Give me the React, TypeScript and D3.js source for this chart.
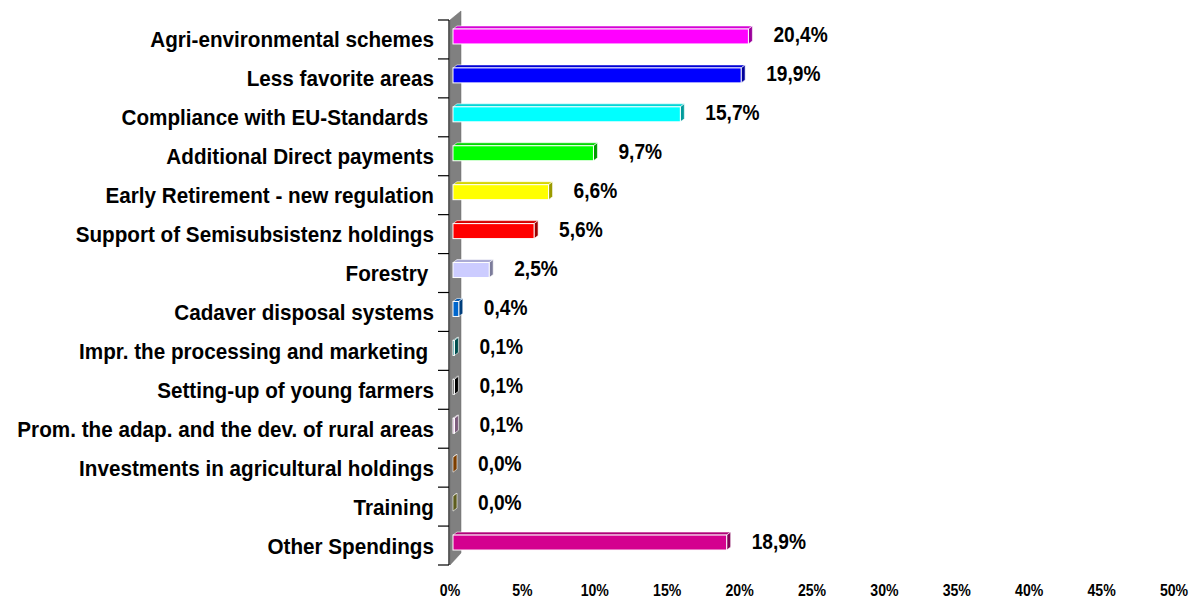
import React from "react";
import * as d3 from "d3";

const categories = [
  "Agri-environmental schemes",
  "Less favorite areas",
  "Compliance with EU-Standards ",
  "Additional Direct payments",
  "Early Retirement - new regulation",
  "Support of Semisubsistenz holdings",
  "Forestry ",
  "Cadaver disposal systems",
  "Impr. the processing and marketing ",
  "Setting-up of young farmers",
  "Prom. the adap. and the dev. of rural areas",
  "Investments in agricultural holdings",
  "Training",
  "Other Spendings",
];
const values = [20.4, 19.9, 15.7, 9.7, 6.6, 5.6, 2.5, 0.4, 0.1, 0.1, 0.1, 0.0, 0.0, 18.9];
const valueLabels = ["20,4%", "19,9%", "15,7%", "9,7%", "6,6%", "5,6%", "2,5%", "0,4%", "0,1%", "0,1%", "0,1%", "0,0%", "0,0%", "18,9%"];
const xTicks = [0, 5, 10, 15, 20, 25, 30, 35, 40, 45, 50];

const barColors = [
  "#FF00FF", "#0000FF", "#00FFFF", "#00FF00", "#FFFF00", "#FF0000", "#CCCCFF",
  "#0066CC", "#008080", "#000000", "#CC99CC", "#CC6600", "#999933", "#D4008F",
];

export default function App() {
  const W = 1190, H = 601;
  const y = d3.scaleBand<string>().domain(categories).range([20, 565]).padding(0);
  const x = d3.scaleLinear().domain([0, 50]).range([453, 453 + 50 * 14.48]);
  const axisX = 449;
  const depthX = 4, depthY = 3;
  const barH = 15;
  const font = "'Liberation Sans', Arial, sans-serif";

  const wallDx = 11, wallDy = 9;
  const wallPath = `M${axisX + 1},${y.range()[0]} L${axisX + 1 + wallDx},${y.range()[0] - wallDy} L${axisX + 1 + wallDx},${y.range()[1] - wallDy - 3} L${axisX + 1},${y.range()[1]} Z`;

  const boundaries = categories.map((c) => y(c) as number).concat([y.range()[1]]);

  return (
    <svg width={W} height={H} style={{ position: "absolute", left: 0, top: 0, background: "#fff" }}>
      <path d={wallPath} fill="#808080" stroke="#6a6a6a" strokeWidth={0.5} />
      <line x1={axisX} x2={axisX} y1={y.range()[0]} y2={y.range()[1]} stroke="#000" strokeWidth={1.2} />
      {boundaries.map((b, i) => (
        <line key={i} x1={axisX - 11} x2={axisX} y1={b} y2={b} stroke="#000" strokeWidth={1.2} />
      ))}
      {categories.map((c, i) => {
        const cy = (y(c) as number) + y.bandwidth() / 2;
        const top = cy - 3 - barH / 2;
        const x0 = x(0);
        const x1 = x(values[i]);
        const col = d3.color(barColors[i])!;
        const topCol = col.darker(0.5).formatHex();
        const sideCol = col.darker(1.4).formatHex();
        const topPath = `M${x0},${top} L${x0 + depthX},${top - depthY} L${x1 + depthX},${top - depthY} L${x1},${top} Z`;
        const sidePath = `M${x1},${top} L${x1 + depthX},${top - depthY} L${x1 + depthX},${top + barH - depthY} L${x1},${top + barH} Z`;
        return (
          <g key={c}>
            <path d={topPath} fill={topCol} stroke="#ffffff" strokeWidth={0.6} />
            <path d={sidePath} fill={sideCol} stroke="#ffffff" strokeWidth={0.6} />
            <rect x={x0} y={top} width={Math.max(0, x1 - x0)} height={barH} fill={barColors[i]} stroke="#ffffff" strokeWidth={1} />
            <text transform={`translate(434,${cy + 8}) scale(0.94,1)`} textAnchor="end" fontFamily={font} fontWeight="bold" fontSize={22} fill="#000" style={{ whiteSpace: "pre" }}>{c}</text>
            <text transform={`translate(${x1 + 25},${cy + 3}) scale(0.87,1)`} textAnchor="start" fontFamily={font} fontWeight="bold" fontSize={22} fill="#000">{valueLabels[i]}</text>
          </g>
        );
      })}
      {xTicks.map((t) => (
        <text key={t} transform={`translate(${x(t) - 3},596) scale(0.83,1)`} textAnchor="middle" fontFamily={font} fontWeight="bold" fontSize={17} fill="#000">{t}%</text>
      ))}
    </svg>
  );
}
